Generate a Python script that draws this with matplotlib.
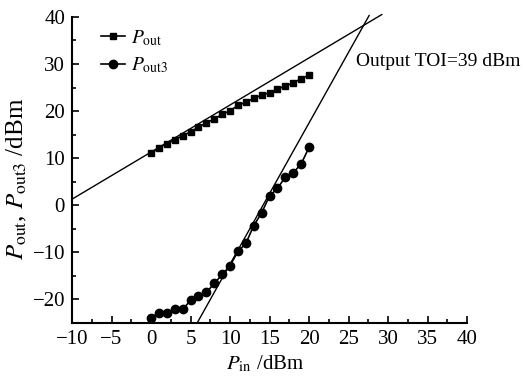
import matplotlib
matplotlib.use('Agg')
import numpy as np
import matplotlib.pyplot as plt
from matplotlib.ticker import MultipleLocator

# --- data ---
p_in = [0, 1, 2, 3, 4, 5, 6, 7, 8, 9, 10, 11, 12, 13, 14, 15, 16, 17, 18, 19, 20]
p_out = [11.0, 12.2, 13.1, 13.9, 14.8, 15.6, 16.6, 17.5, 18.3, 19.3, 20.1,
         21.2, 21.9, 22.7, 23.4, 23.9, 24.7, 25.3, 26.0, 26.9, 27.6]
p_out3 = [-23.9, -22.8, -22.8, -22.0, -22.1, -20.2, -19.3, -18.5, -16.6, -14.7, -12.8,
          -9.8, -8.1, -4.3, -1.6, 2.0, 3.6, 6.0, 6.9, 8.8, 12.3]

# extrapolated fits (slope, intercept) and the input range each is drawn over
fund_fit = (1.0, 11.3)
fund_span = [-10, 29.2]
im3_fit = (3.0, -42.5)
im3_span = [5.83, 27.6]

plt.rcParams['font.family'] = ['Liberation Serif', 'DejaVu Serif']
plt.rcParams['mathtext.fontset'] = 'stix'

fig = plt.figure(figsize=(5.26, 3.76), dpi=100)
ax = fig.add_axes([0.137, 0.141, 0.751, 0.814])

ax.plot(p_in, p_out, color='black', marker='s', markersize=5, lw=1.2, label=r'$P_{\rm out}$')
ax.plot(p_in, p_out3, color='black', marker='o', markersize=6, lw=1.2, label=r'$P_{\rm out3}$')

for (m, b), span in [(fund_fit, fund_span), (im3_fit, im3_span)]:
    xs = np.array(span)
    ax.plot(xs, m * xs + b, color='black', lw=1.0, clip_on=False)

ax.text(26.0, 30.6, 'Output TOI=39 dBm', fontsize=14, ha='left', va='center')

ax.set_xlim(-10, 40)
ax.set_ylim(-25, 40)
ax.xaxis.set_major_locator(MultipleLocator(5))
ax.xaxis.set_minor_locator(MultipleLocator(2.5))
ax.yaxis.set_major_locator(MultipleLocator(10))
ax.yaxis.set_minor_locator(MultipleLocator(5))
ax.tick_params(which='both', direction='in', width=1.2, labelsize=15, pad=5)
ax.tick_params(which='major', length=5)
ax.tick_params(which='minor', length=3)
ax.set_xticks(range(-10, 41, 5))
ax.set_xticklabels(['\u221210', '\u22125', '0', '5', '10', '15', '20', '25', '30', '35', '40'])
ax.set_yticks(range(-20, 41, 10))
ax.set_yticklabels(['\u221220', '\u221210', '0', '10', '20', '30', '40'])

for side in ['top', 'right']:
    ax.spines[side].set_visible(False)
for side in ['left', 'bottom']:
    ax.spines[side].set_linewidth(1.5)

ax.set_xlabel(r'$P_{\rm in}$ /dBm', fontsize=15)
ax.xaxis.set_label_coords(0.49, -0.1)
ax.set_ylabel(r'$P_{\rm out}$, $P_{\rm out3}$ /dBm', fontsize=18)
ax.yaxis.set_label_coords(-0.108, 0.47)

ax.legend(loc='upper left', bbox_to_anchor=(0.03, 1.02), frameon=False, fontsize=14,
          handlelength=1.2, handletextpad=0.3, labelspacing=0.4)

fig.savefig('out.png', dpi=100)
